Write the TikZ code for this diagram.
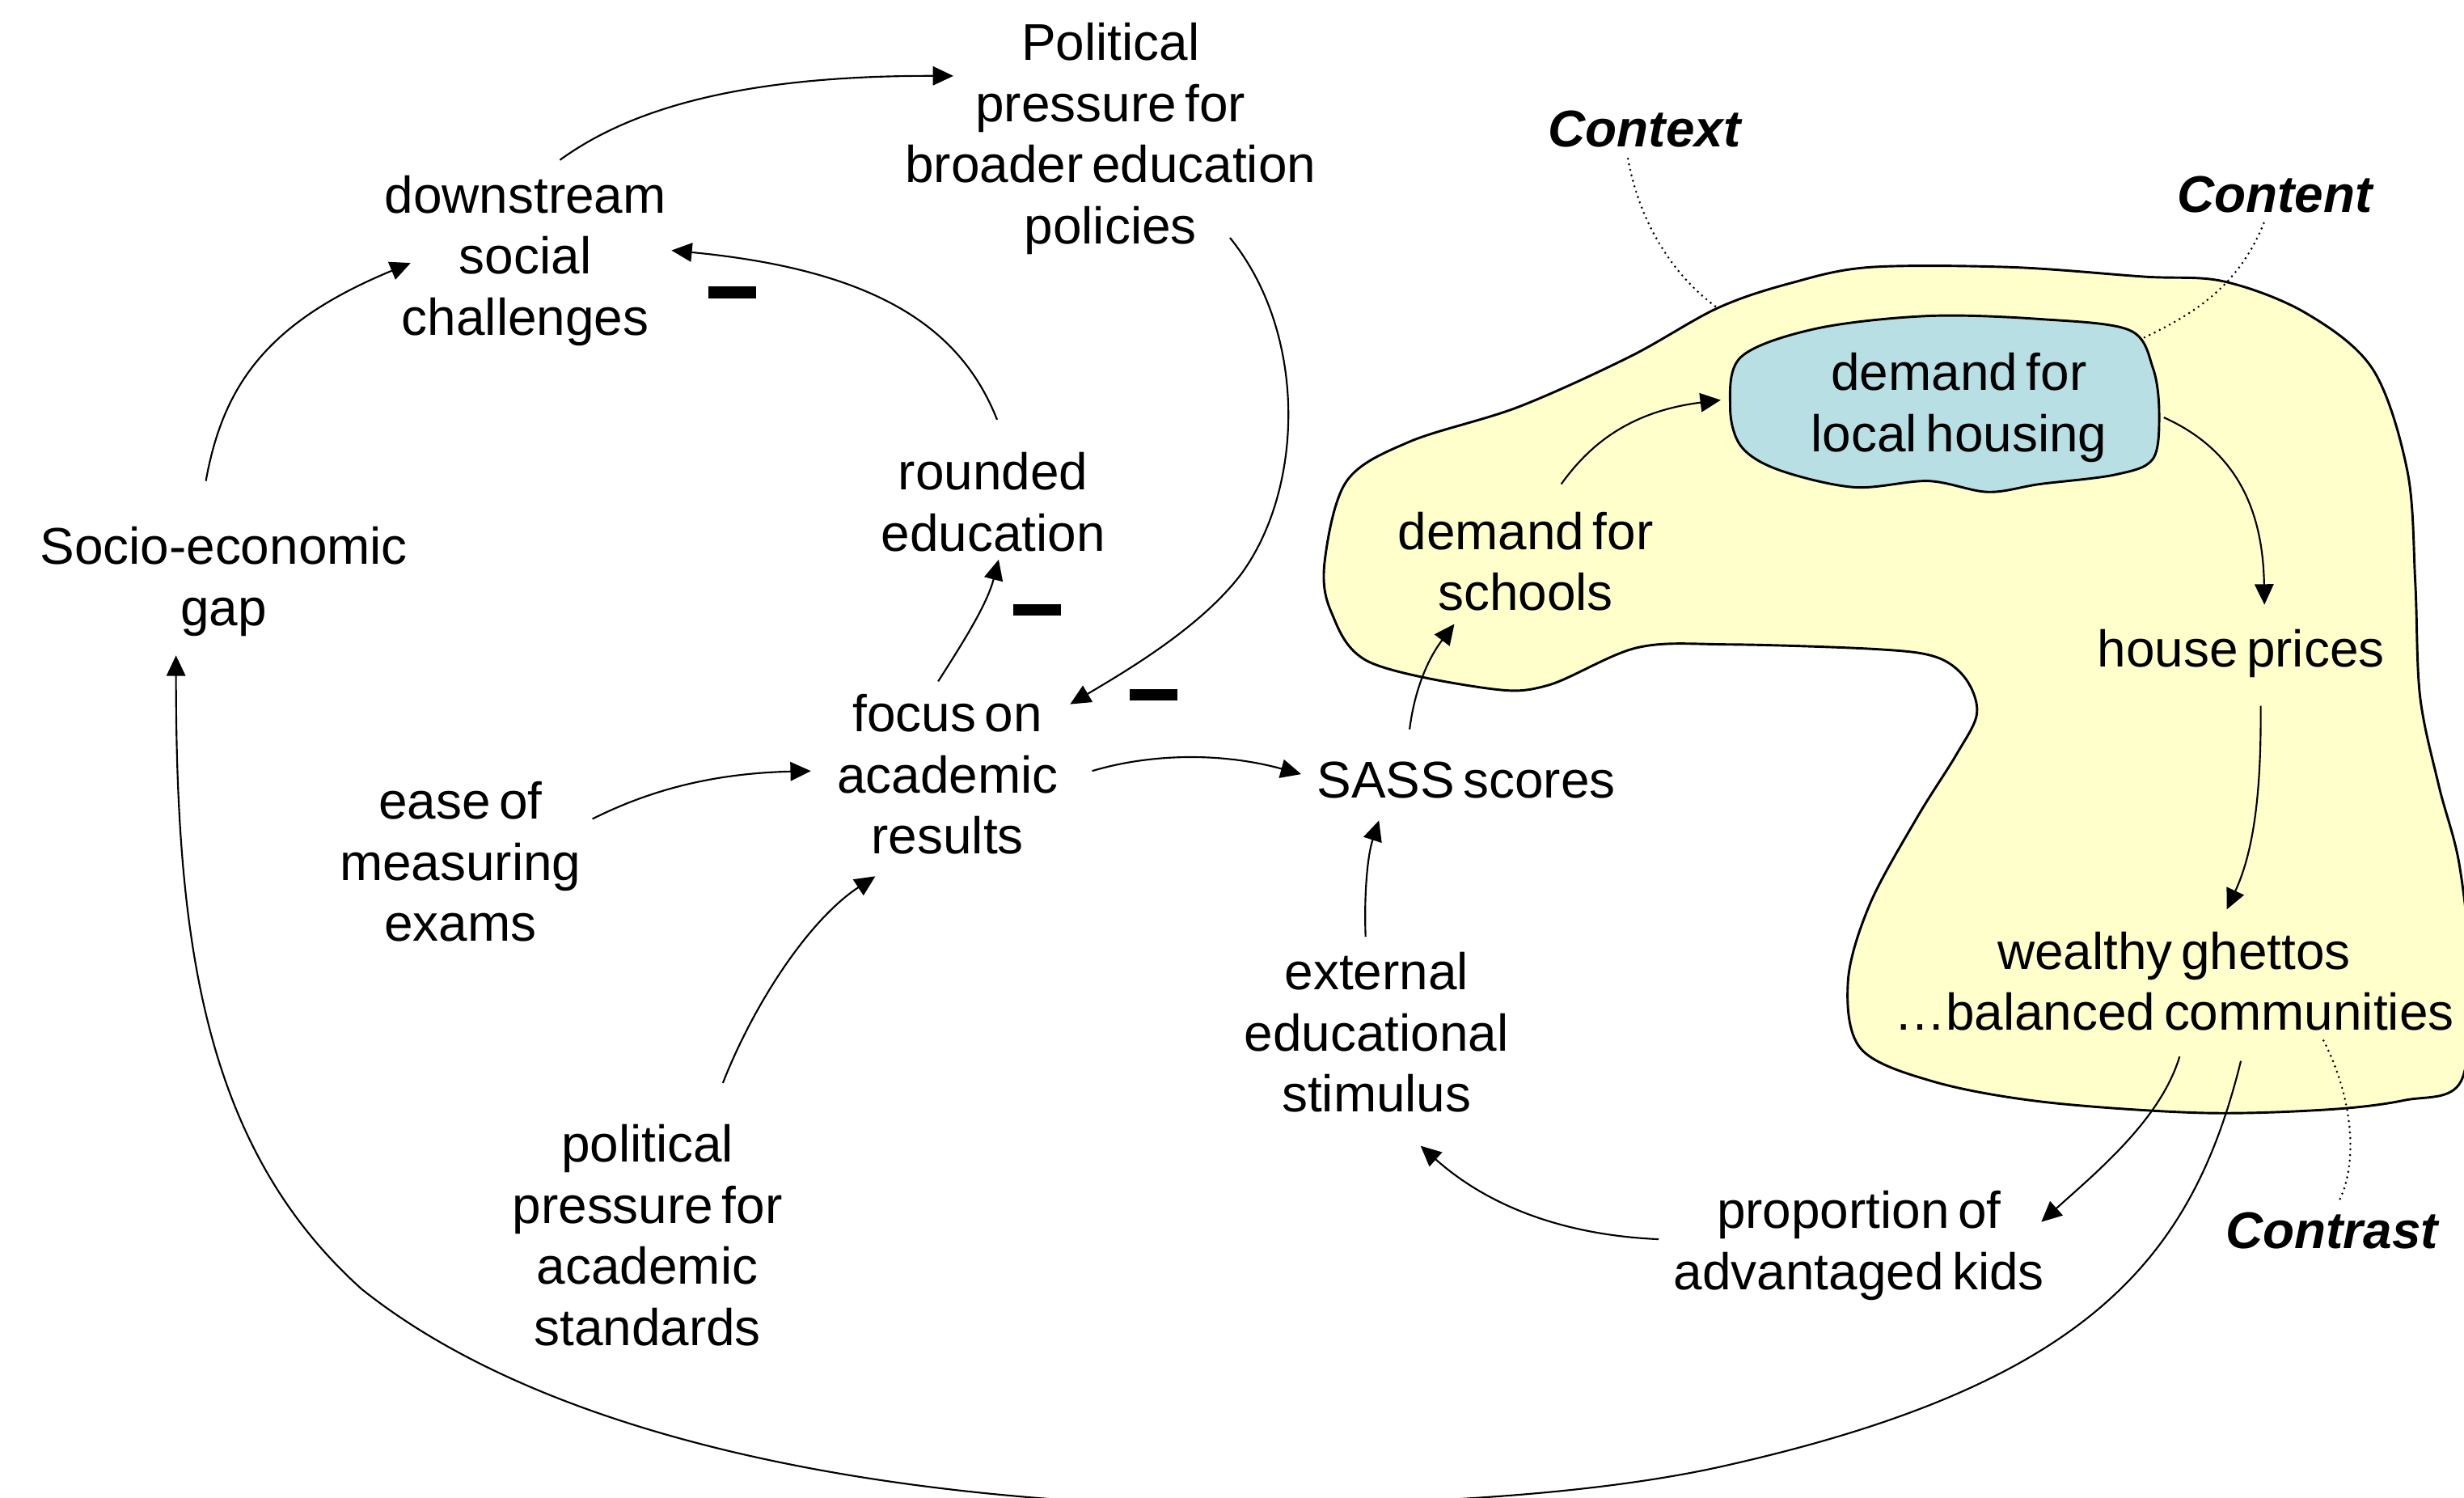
\documentclass[tikz,border=0pt]{standalone}
\usepackage{fontspec}
\setmainfont{Liberation Sans}[WordSpace=0.6]
\usetikzlibrary{arrows.meta}
\definecolor{blobyellow}{HTML}{FFFFCC}
\definecolor{blobblue}{HTML}{B8DFE3}
\begin{document}
\begin{tikzpicture}[x=1bp,y=-1bp,
  txt/.style={align=center,inner sep=0pt,font=\fontsize{33}{39}\selectfont,
    execute at begin node={\rule{0pt}{35.3bp}},
    execute at end node={\rule[-11.7bp]{0pt}{11.7bp}}},
  tag/.style={align=center,inner sep=0pt,font=\fontsize{33}{39}\selectfont\bfseries\itshape,
    execute at begin node=\strut,execute at end node=\strut},
  arr/.style={line width=1.1bp,-{Triangle[length=13bp,width=12bp]}},
  pointer/.style={line width=1.5bp,dash pattern=on 0bp off 3.6bp,line cap=round},
  blob/.style={line width=1.5bp,draw=black},
  minusbar/.style={fill=black,inner sep=0pt,minimum width=30bp,minimum height=7.5bp}]
\useasboundingbox (0,0) rectangle (1568,953);
\fill[white] (0,0) rectangle (1568,953);
\clip (0,0) rectangle (1568,953);

% regions: context (yellow) and content (blue)
\draw[blob,fill=blobyellow] plot[smooth cycle,tension=0.55] coordinates {
  (1093,196) (1140,180) (1190,170) (1280,170) (1364,176) (1415,179) (1467,199)
  (1510,235) (1532,300) (1537,371) (1540,443) (1552,500) (1565,550) (1572,620)
  (1566,688) (1530,700) (1480,706) (1400,708) (1300,701) (1230,688) (1184,667)
  (1176,624) (1190,575) (1220,520) (1245,480) (1258,454) (1251,432) (1232,418)
  (1194,413) (1100,410) (1042,412) (985,436) (947,438) (871,421) (847,389)
  (843,357) (857,306) (897,281) (966,259) (1037,227)};
\draw[blob,fill=blobblue] plot[smooth cycle,tension=0.55] coordinates {
  (1108,227) (1156,209) (1227,201) (1298,203) (1355,210) (1370,234) (1374,263)
  (1370,292) (1346,302) (1298,308) (1265,313) (1227,306) (1180,310) (1132,299)
  (1108,284) (1101,259)};

% factors
\node[txt] (pol) at (706.7,90.8) {Political\\pressure for\\broader education\\policies};
\node[txt] (ds)  at (334.3,168.3) {downstream\\social\\challenges};
\node[txt] (se)  at (142.4,372.5) {Socio-economic\\gap};
\node[txt] (ro)  at (632,325) {rounded\\education};
\node[txt] (fo)  at (603,498.5) {focus on\\academic\\results};
\node[txt] (ea)  at (293,554) {ease of\\measuring\\exams};
\node[txt] (pp)  at (412,791.5) {political\\pressure for\\academic\\standards};
\node[txt] (sass) at (933,496) {SASS scores};
\node[txt] (ext) at (876,662.5) {external\\educational\\stimulus};
\node[txt] (dfs) at (970.8,362.9) {demand for\\schools};
\node[txt] (dlh) at (1246.6,261.7) {demand for\\local housing};
\node[txt] (hp)  at (1426,412.5) {house prices};
\node[txt] (wg)  at (1383.5,630.1) {wealthy ghettos\\…balanced communities};
\node[txt] (pak) at (1183,794.8) {proportion of\\advantaged kids};

% region labels
\node[tag] (ctx) at (1046.4,85.7) {Context};
\node[tag] (cnt) at (1447.4,127.5) {Content};
\node[tag] (ctr) at (1484,786.5) {Contrast};
\coordinate (ctxedge) at (1093,196);
\coordinate (cntedge) at (1364,215);
\coordinate (ctrin) at (1478.6,662);

% negative links
\node[minusbar] (m1) at (466,186) {};
\node[minusbar] (m2) at (660,388) {};
\node[minusbar] (m3) at (734,442) {};

% causal links
\draw[arr] ([shift={(22,-66.5)}]ds.center) .. controls (400,70) and (470,48) .. ([shift={(-100,-42.5)}]pol.center);
\draw[arr] ([shift={(76,60.5)}]pol.center) .. controls (832,212) and (830,310) .. (790,365)
  .. controls (765,398) and (720,425) .. ([shift={(78,-50.5)}]fo.center);
\draw[arr] ([shift={(2.5,-58)}]ro.center) .. controls (612,210) and (560,172) .. ([shift={(93,-9)}]ds.center);
\draw[arr] ([shift={(-11.4,-66.5)}]se.center) .. controls (142,245) and (170,205) .. ([shift={(-73,-1)}]ds.center);
\draw[arr] ([shift={(-6,-65)}]fo.center) .. controls (612,410) and (628,385) .. ([shift={(3.5,31)}]ro.center);
\draw[arr] ([shift={(84,-33)}]ea.center) .. controls (415,502) and (455,492) .. ([shift={(-87,-8)}]fo.center);
\draw[arr] ([shift={(48,-102.5)}]pp.center) .. controls (480,638) and (515,585) .. ([shift={(-46,59)}]fo.center);
\draw[arr] ([shift={(92,-8)}]fo.center) .. controls (730,480) and (775,478) .. ([shift={(-105,-3.5)}]sass.center);
\draw[arr] ([shift={(-7,-66.5)}]ext.center) .. controls (868,570) and (870,545) .. ([shift={(-55.5,26)}]sass.center);
\draw[arr] ([shift={(-36,-32)}]sass.center) .. controls (900,440) and (908,420) .. ([shift={(-45.3,34.1)}]dfs.center);
\draw[arr] ([shift={(22.7,-54.9)}]dfs.center) .. controls (1010,285) and (1035,262) .. ([shift={(-151.6,-7.2)}]dlh.center);
\draw[arr] ([shift={(130.4,3.9)}]dlh.center) .. controls (1420,285) and (1440,320) .. ([shift={(15,-27.8)}]hp.center);
\draw[arr] ([shift={(12.6,36.5)}]hp.center) .. controls (1439,500) and (1435,540) .. ([shift={(33.5,-51.5)}]wg.center);
\draw[arr] ([shift={(3.5,42.1)}]wg.center) .. controls (1375,712) and (1335,745) .. ([shift={(116,-17.4)}]pak.center);
\draw[arr] ([shift={(-127.5,-6.4)}]pak.center) .. controls (1000,786) and (950,770) .. ([shift={(28,66.5)}]ext.center);
\draw[arr] ([shift={(42.5,44.9)}]wg.center) .. controls (1395,800) and (1330,880) .. (1100,932)
  .. controls (1000,955) and (850,960) .. (705,956)
  .. controls (500,945) and (330,900) .. (230,820)
  .. controls (130,730) and (112,600) .. ([shift={(-30.4,44.5)}]se.center);

% label pointers
\draw[pointer] ([shift={(-10.4,15.3)}]ctx.center) .. controls (1042,135) and (1060,172) .. (ctxedge);
\draw[pointer] ([shift={(-6.8,14.5)}]cnt.center) .. controls (1425,180) and (1400,198) .. (cntedge);
\draw[pointer] (ctrin) .. controls (1498,700) and (1500,740) .. ([shift={(5,-23.5)}]ctr.center);
\end{tikzpicture}
\end{document}
